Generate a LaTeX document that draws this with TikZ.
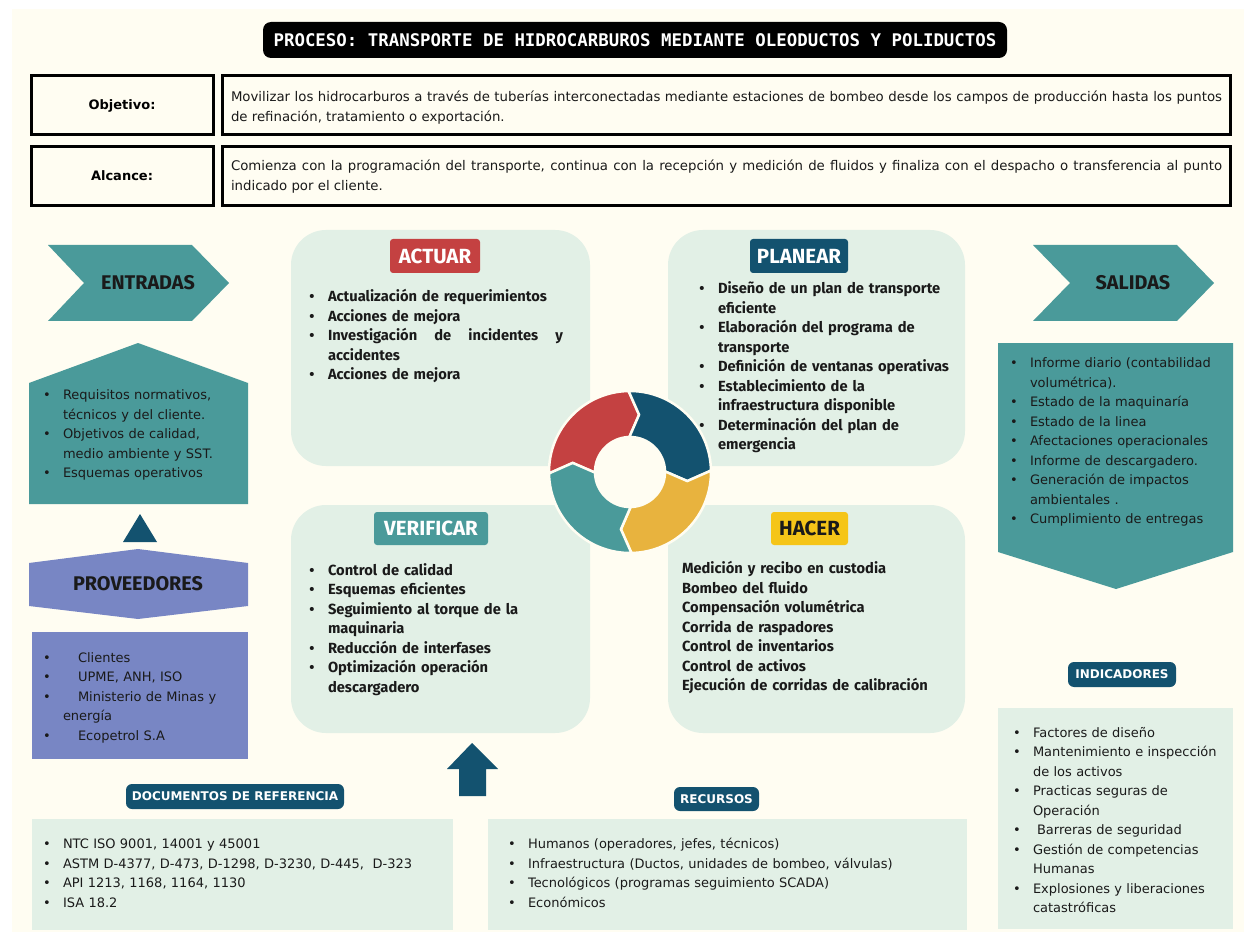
\documentclass[tikz,border=0pt]{standalone}
\usepackage{fontspec}
\setmainfont{DejaVu Sans}
\newfontfamily\fira{Fira Sans}
\newfontfamily\monof{DejaVu Sans Mono}
\definecolor{cream}{HTML}{FFFDF2}
\definecolor{mint}{HTML}{E2F0E6}
\definecolor{cteal}{HTML}{4A9A9A}
\definecolor{cdblue}{HTML}{13526F}
\definecolor{cred}{HTML}{C44141}
\definecolor{cyellow}{HTML}{F5C518}
\definecolor{ringyel}{HTML}{E8B33E}
\definecolor{cperi}{HTML}{7886C4}
\definecolor{ctext}{HTML}{1A1A1A}
\newenvironment{blist}{\begin{list}{\makebox[0pt]{\textbullet}\hspace*{16pt}}{%
  \setlength{\leftmargin}{20pt}\setlength{\labelwidth}{20pt}\setlength{\labelsep}{0pt}%
  \setlength{\itemsep}{0pt}\setlength{\parsep}{0pt}\setlength{\topsep}{0pt}%
  \setlength{\partopsep}{0pt}\setlength{\itemindent}{0pt}\setlength{\listparindent}{0pt}}}{\end{list}}
\begin{document}
\begin{tikzpicture}[x=1pt,y=-1pt,
  every node/.style={inner sep=0pt,outer sep=0pt},
  obox/.style={draw=black,line width=3pt,fill=cream},
  pdcabox/.style={fill=mint,rounded corners=35pt},
  tagbox/.style={rounded corners=3pt,text=white,font=\fira\bfseries\fontsize{20.5}{22}\selectfont},
  smalltag/.style={fill=cdblue,rounded corners=6pt,text=white,font=\bfseries\fontsize{12}{14}\selectfont},
  headfont/.style={text=ctext,font=\fira\bfseries\fontsize{19.8}{22}\selectfont},
  boldlist/.style={anchor=base west,text width=300pt,align=left,text=ctext,font=\fira\bfseries\fontsize{14.7}{19.5}\selectfont},
  plainlist/.style={anchor=base west,text width=300pt,align=left,text=ctext,font=\fontsize{13}{19.5}\selectfont},
  longtext/.style={anchor=base west,text width=991pt,align=justify,text=ctext,font=\fontsize{13.3}{20}\selectfont},
  mintbox/.style={fill=mint}
]
\useasboundingbox (0,0) rectangle (1254,936);
\fill[white] (0,0) rectangle (1254,936);
\fill[cream] (12,9) rectangle (1244,932);

% title
\node[fill=black,rounded corners=8pt,minimum width=744pt,minimum height=36pt,text=white,
  font=\monof\bfseries\fontsize{17.4}{20}\selectfont] (title) at (635,40)
  {PROCESO: TRANSPORTE DE HIDROCARBUROS MEDIANTE OLEODUCTOS Y POLIDUCTOS};

% objetivo / alcance
\node[obox,minimum width=182pt,minimum height=59pt] (objL) at (122,105.5) {};
\node[obox,minimum width=1008pt,minimum height=59pt] (objR) at (726,105.5) {};
\node[obox,minimum width=182pt,minimum height=59pt] (alcL) at (122,176) {};
\node[obox,minimum width=1008pt,minimum height=59pt] (alcR) at (726,176) {};
\node[font=\bfseries\fontsize{13}{15}\selectfont] (objT) at (122,106) {Objetivo:};
\node[font=\bfseries\fontsize{13}{15}\selectfont] (alcT) at (122,176) {Alcance:};
\node[longtext] (objX) at (231,101.5)
 {Movilizar los hidrocarburos a través de tuberías interconectadas mediante estaciones de bombeo desde los campos de producción hasta los puntos\linebreak de refinación, tratamiento o exportación.};
\node[longtext] (alcX) at (231,170.5)
 {Comienza con la programación del transporte, continua con la recepción y medición de fluidos y finaliza con el despacho o transferencia al punto\linebreak indicado por el cliente.};

% ENTRADAS
\fill[cteal] (48,245) -- (192,245) -- (229,283) -- (192,321) -- (48,321) -- (84,283) -- cycle;
\node[headfont] (entr) at (148,283) {ENTRADAS};
\fill[cteal] (29,383) -- (138,343) -- (248,383) -- (248,504) -- (29,504) -- cycle;
\node[plainlist] (entrL) at (43,380.5) {\begin{blist}
\item Requisitos normativos,\newline técnicos y del cliente.
\item Objetivos de calidad,\newline medio ambiente y SST.
\item Esquemas operativos
\end{blist}};
\fill[cdblue] (123,542) -- (157,542) -- (140,514) -- cycle;

% PROVEEDORES
\fill[cperi] (29,563) -- (138,549) -- (248,563) -- (248,606) -- (138,619) -- (29,606) -- cycle;
\node[headfont] (prov) at (138,584) {PROVEEDORES};
\node[fill=cperi,minimum width=216pt,minimum height=127pt] (provB) at (140,695.5) {};
\node[plainlist] (provL) at (43,642.5) {\begin{blist}
\item \hspace*{15pt}Clientes
\item \hspace*{15pt}UPME, ANH, ISO
\item \hspace*{15pt}Ministerio de Minas y\newline energía
\item \hspace*{15pt}Ecopetrol S.A
\end{blist}};

% PDCA boxes
\node[pdcabox,minimum width=299pt,minimum height=236pt] (actB) at (440.5,348) {};
\node[pdcabox,minimum width=297pt,minimum height=236pt] (plaB) at (816.5,348) {};
\node[pdcabox,minimum width=299pt,minimum height=228pt] (verB) at (440.5,619) {};
\node[pdcabox,minimum width=297pt,minimum height=228pt] (hacB) at (816.5,619) {};

\node[tagbox,fill=cred,minimum width=90pt,minimum height=34pt] (actT) at (435,256) {ACTUAR};
\node[tagbox,fill=cdblue,minimum width=98pt,minimum height=34pt] (plaT) at (799,256) {PLANEAR};
\node[tagbox,fill=cteal,minimum width=114pt,minimum height=33pt] (verT) at (431,528.5) {VERIFICAR};
\node[tagbox,fill=cyellow,text=ctext,minimum width=77pt,minimum height=33pt] (hacT) at (809.5,528.5) {HACER};

\node[boldlist,text width=255pt] (actL) at (308,282.5) {\begin{blist}
\item Actualización de requerimientos
\item Acciones de mejora
\item Investigación\hfill de\hfill incidentes\hfill y\newline accidentes
\item Acciones de mejora
\end{blist}};
\node[boldlist] (plaL) at (698,274.5) {\begin{blist}
\item Diseño de un plan de transporte\newline eficiente
\item Elaboración del programa de\newline transporte
\item Definición de ventanas operativas
\item Establecimiento de la\newline infraestructura disponible
\item Determinación del plan de\newline emergencia
\end{blist}};
\node[boldlist] (verL) at (308,555.5) {\begin{blist}
\item Control de calidad
\item Esquemas eficientes
\item Seguimiento al torque de la\newline maquinaria
\item Reducción de interfases
\item Optimización operación\newline descargadero
\end{blist}};
\node[boldlist] (hacL) at (682,573.5) {Medición y recibo en custodia\\
Bombeo del fluido\\
Compensación volumétrica\\
Corrida de raspadores\\
Control de inventarios\\
Control de activos\\
Ejecución de corridas de calibración};

% PDCA ring
\begin{scope}[shift={(630,472)},x=1pt,y=1pt]
\foreach \a/\c in {181/cred,91/cdblue,1/ringyel,-89/cteal}{
  \filldraw[fill=\c,draw=cream,line width=2.5pt]
    (\a:81pt) arc[start angle=\a,end angle=\a-90,radius=81pt]
    -- ({\a-100}:58pt) -- ({\a-90}:35pt)
    arc[start angle=\a-90,end angle=\a,radius=35pt]
    -- ({\a-10}:58pt) -- cycle;
}
\end{scope}

% SALIDAS
\fill[cteal] (1033,245) -- (1177,245) -- (1214,283) -- (1177,321) -- (1033,321) -- (1070,283) -- cycle;
\node[headfont] (sal) at (1133,283) {SALIDAS};
\fill[cteal] (998,343) -- (1233,343) -- (1233,552) -- (1116,589) -- (998,552) -- cycle;
\node[plainlist] (salL) at (1010,348.5) {\begin{blist}
\item Informe diario (contabilidad\newline volumétrica).
\item Estado de la maquinaría
\item Estado de la linea
\item Afectaciones operacionales
\item Informe de descargadero.
\item Generación de impactos\newline ambientales .
\item Cumplimiento de entregas
\end{blist}};

% INDICADORES
\node[smalltag,minimum width=108pt,minimum height=25pt] (indT) at (1122,674.5) {INDICADORES};
\node[mintbox,minimum width=235pt,minimum height=221pt] (indB) at (1115.5,818.5) {};
\node[plainlist] (indL) at (1013,717.5) {\begin{blist}
\item Factores de diseño
\item Mantenimiento e inspección\newline de los activos
\item Practicas seguras de\newline Operación
\item \hspace*{4pt}Barreras de seguridad
\item Gestión de competencias\newline Humanas
\item Explosiones y liberaciones\newline catastróficas
\end{blist}};

% up arrow
\fill[cdblue] (459,796) -- (486,796) -- (486,769) -- (498,769) -- (472,743) -- (447,769) -- (459,769) -- cycle;

% DOCUMENTOS
\node[smalltag,minimum width=218pt,minimum height=25pt] (docT) at (235,796.5) {DOCUMENTOS DE REFERENCIA};
\node[mintbox,minimum width=421pt,minimum height=111pt] (docB) at (242.5,874.5) {};
\node[plainlist,text width=400pt] (docL) at (43,829) {\begin{blist}
\item NTC ISO 9001, 14001 y 45001
\item ASTM D-4377, D-473, D-1298, D-3230, D-445,\ \ D-323
\item API 1213, 1168, 1164, 1130
\item ISA 18.2
\end{blist}};

% RECURSOS
\node[smalltag,minimum width=85pt,minimum height=24pt] (recT) at (716.5,799) {RECURSOS};
\node[mintbox,minimum width=479pt,minimum height=111pt] (recB) at (727.5,874.5) {};
\node[plainlist,text width=450pt] (recL) at (508,829) {\begin{blist}
\item Humanos (operadores, jefes, técnicos)
\item Infraestructura (Ductos, unidades de bombeo, válvulas)
\item Tecnológicos (programas seguimiento SCADA)
\item Económicos
\end{blist}};
\end{tikzpicture}
\end{document}
